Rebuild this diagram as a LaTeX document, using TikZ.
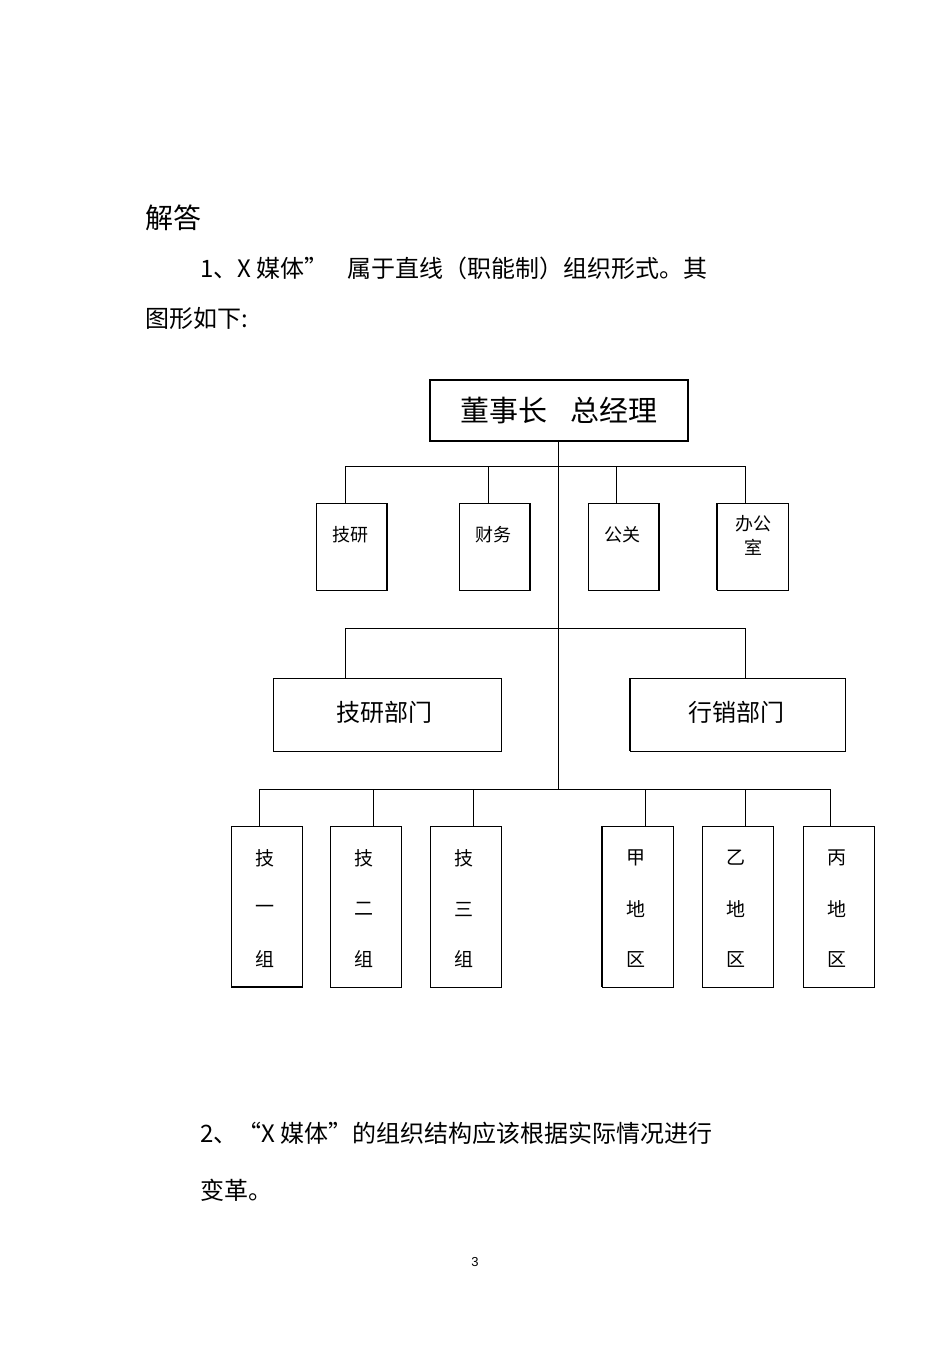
\documentclass[tikz,border=0pt]{standalone}
\usepackage{fontspec}
\setmainfont{Liberation Sans}
\newfontfamily\cjk{Noto Sans CJK SC}
\begin{document}
\begin{tikzpicture}[x=1pt,y=-1pt,
  box/.style={draw,line width=0.9pt,inner sep=0},
  ln/.style={line width=0.9pt},
  txt/.style={font=\cjk\fontsize{24}{28}\selectfont,anchor=west,inner sep=0}]
\useasboundingbox (0,0) rectangle (950,1345);
\node[txt,font=\cjk\fontsize{28}{32}\selectfont] (t0) at (145,218) {解答};
\node[txt] (t1) at (200,268) {1、X 媒体”\hspace{0.8em}属于直线（职能制）组织形式。其};
\node[txt] (t2) at (145,318) {图形如下:};
% top
\draw[box,line width=1.4pt] (430,380) rectangle (688,441);
\node[font=\cjk\fontsize{29}{32}\selectfont] (top) at (559,411) {董事长\hspace{0.8em}总经理};
\coordinate (tb) at (558,441);
\coordinate (tend) at (558,789);
\draw[ln] (tb) -- (tend);
% level 1
\draw[ln] (345,466) -- (745,466);
\foreach \x in {345,488,616,745} \draw[ln] (\x,466) -- (\x,503);
\foreach \x/\t in {316/技研,459/财务,588/公关}{
  \draw[box] (\x,503) rectangle ++(71,87);
  \draw[line width=1.5pt] (\x+71,503) -- ++(0,87);
  \node[font=\cjk\fontsize{18}{20}\selectfont] at (\x+34,535) {\t};}
\draw[box] (717,503) rectangle ++(71,87);
\draw[line width=1.5pt] (717,503) -- ++(0,87);
\node[font=\cjk\fontsize{18}{24}\selectfont,align=center] at (753,535) {办公\\室};
% level 2
\draw[ln] (345,628) -- (745,628);
\draw[ln] (345,628) -- (345,678);
\draw[ln] (745,628) -- (745,678);
\draw[box] (273,678) rectangle (501,751);
\node[font=\cjk\fontsize{24}{28}\selectfont] (a) at (384,712) {技研部门};
\draw[box] (630,678) rectangle (845,751);
\draw[line width=1.5pt] (630,678) -- (630,751);
\node[font=\cjk\fontsize{24}{28}\selectfont] (b) at (736,712) {行销部门};
% level 3
\draw[ln] (259,789) -- (830,789);
\foreach \x/\bx/\a/\b/\c in {259/231/技/一/组,373/330/技/二/组,473/430/技/三/组,645/602/甲/地/区,745/702/乙/地/区,830/803/丙/地/区}{
  \draw[ln] (\x,789) -- (\x,826);
  \draw[box] (\bx,826) rectangle ++(71,161);
  \node[font=\cjk\fontsize{19}{20}\selectfont] at (\bx+34,858) {\a};
  \node[font=\cjk\fontsize{19}{20}\selectfont] at (\bx+34,909) {\b};
  \node[font=\cjk\fontsize{19}{20}\selectfont] at (\bx+34,959) {\c};}
\draw[line width=1.8pt] (231,987) -- (302,987);
\draw[line width=1.5pt] (602,826) -- (602,987);
\node[txt] (t3) at (200,1133) {2、“X 媒体”的组织结构应该根据实际情况进行};
\node[txt] (t4) at (200,1190) {变革。};
\node[font=\fontsize{13}{15}\selectfont] (pg) at (475,1262) {3};
\end{tikzpicture}
\end{document}
